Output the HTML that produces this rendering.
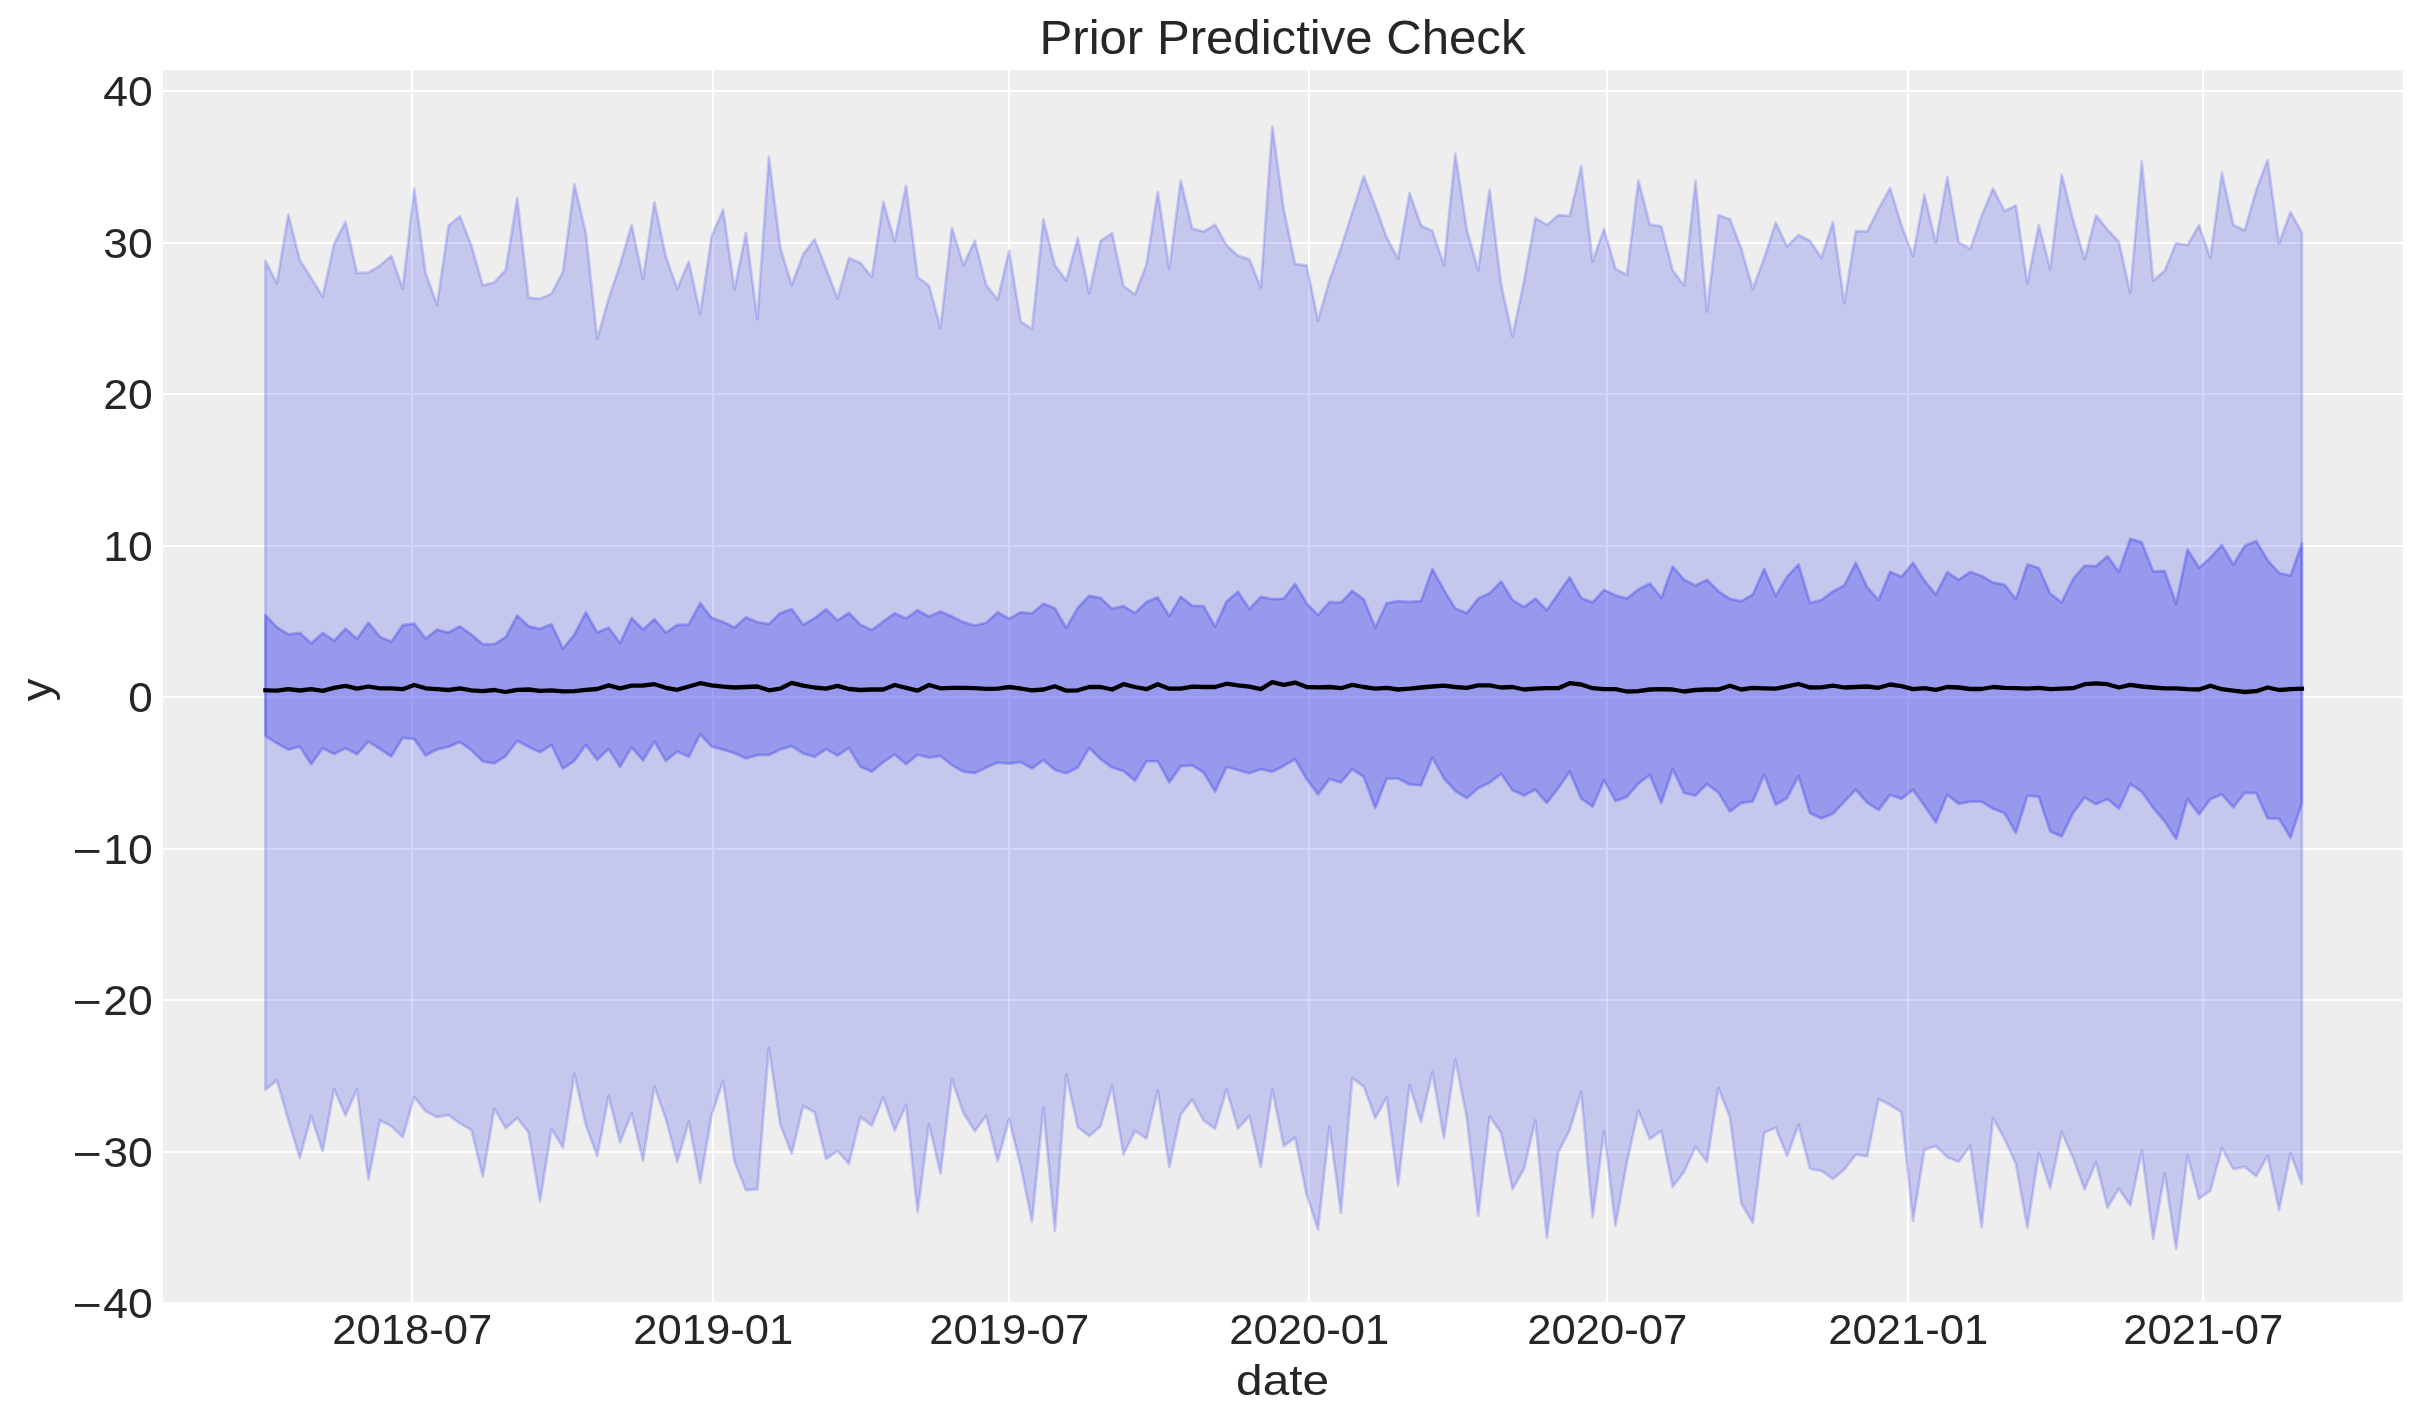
<!DOCTYPE html>
<html><head><meta charset="utf-8"><title>Prior Predictive Check</title>
<style>html,body{margin:0;padding:0;background:#fff;}body{width:2423px;height:1423px;overflow:hidden;}svg{display:block;will-change:transform;}text{font-family:"Liberation Sans",sans-serif;fill:#262626;}</style>
</head><body>
<svg width="2423" height="1423" viewBox="0 0 2423 1423">
<rect x="0" y="0" width="2423" height="1423" fill="#ffffff"/>
<defs><clipPath id="pc"><rect x="163" y="70" width="2240" height="1232"/></clipPath></defs>
<rect x="163" y="70" width="2240" height="1232" fill="#eeeeee"/>
<g clip-path="url(#pc)">
<g stroke="#ffffff" stroke-width="2" fill="none">
<line x1="412" y1="70" x2="412" y2="1302"/>
<line x1="713" y1="70" x2="713" y2="1302"/>
<line x1="1009" y1="70" x2="1009" y2="1302"/>
<line x1="1309" y1="70" x2="1309" y2="1302"/>
<line x1="1607" y1="70" x2="1607" y2="1302"/>
<line x1="1908" y1="70" x2="1908" y2="1302"/>
<line x1="2203" y1="70" x2="2203" y2="1302"/>
<line x1="163" y1="91" x2="2403" y2="91"/>
<line x1="163" y1="243" x2="2403" y2="243"/>
<line x1="163" y1="394" x2="2403" y2="394"/>
<line x1="163" y1="546" x2="2403" y2="546"/>
<line x1="163" y1="697" x2="2403" y2="697"/>
<line x1="163" y1="849" x2="2403" y2="849"/>
<line x1="163" y1="1000" x2="2403" y2="1000"/>
<line x1="163" y1="1152" x2="2403" y2="1152"/>
<line x1="163" y1="1303" x2="2403" y2="1303"/>
</g>
<polygon points="265.4,261 276.9,283.3 288.3,214.6 299.8,260 311.2,278.1 322.7,296.5 334.1,244 345.5,221.7 357,273 368.4,272.4 379.9,265.8 391.3,255.8 402.7,288.5 414.2,189 425.6,273 437.1,305.1 448.5,225.8 459.9,216.2 471.4,245.6 482.8,285.6 494.3,282.3 505.7,270 517.2,198 528.6,297.6 540,298.8 551.5,293.8 562.9,271.7 574.4,184.5 585.8,232.7 597.2,338.9 608.7,298.5 620.1,264.6 631.6,225 643,279.1 654.4,202.3 665.9,256.8 677.3,288.9 688.8,261.8 700.2,314.1 711.6,236.5 723.1,209.8 734.5,289.4 746,232.9 757.4,319.1 768.9,156.8 780.3,247.6 791.7,285.2 803.2,254.2 814.6,239.3 826.1,268.7 837.5,298.5 848.9,258 860.4,262.9 871.8,277 883.3,201.8 894.7,241.5 906.1,185.8 917.6,277 929,285.7 940.5,328.2 951.9,227.8 963.4,265.1 974.8,240.7 986.2,284.9 997.7,299.6 1009.1,250.7 1020.6,321.3 1032,328.9 1043.4,219.4 1054.9,265.3 1066.3,280.6 1077.8,238 1089.2,293.4 1100.6,240.8 1112.1,233.1 1123.5,285.9 1135,294.5 1146.4,264.5 1157.8,191.8 1169.3,268.9 1180.7,180.6 1192.2,228.5 1203.6,231.6 1215.1,224.7 1226.5,245.1 1237.9,255.7 1249.4,259.3 1260.8,287.6 1272.3,126.6 1283.7,209.1 1295.1,264 1306.6,265.3 1318,320.6 1329.5,280.2 1340.9,247.9 1352.3,212.4 1363.8,176.4 1375.2,205.8 1386.7,237.5 1398.1,258.9 1409.6,193.1 1421,225.5 1432.4,231.1 1443.9,265.1 1455.3,153.9 1466.8,229.6 1478.2,270.4 1489.6,189.8 1501.1,284.4 1512.5,336.4 1524,281.1 1535.4,218 1546.8,225 1558.3,215.1 1569.7,215.9 1581.2,166.3 1592.6,261.6 1604,229.1 1615.5,268.7 1626.9,275 1638.4,180.4 1649.8,224.5 1661.3,226.3 1672.7,270.4 1684.1,285.7 1695.6,180.9 1707,311.7 1718.5,215.1 1729.9,219.2 1741.3,248.6 1752.8,289 1764.2,258 1775.7,222.8 1787.1,246.4 1798.5,234.9 1810,240.7 1821.4,258 1832.9,222 1844.3,303.4 1855.8,231.1 1867.2,231.4 1878.6,208.9 1890.1,188.1 1901.5,225.3 1913,256.3 1924.4,194.7 1935.8,242.8 1947.3,177.1 1958.7,242.3 1970.2,248.9 1981.6,215.9 1993,188.6 2004.5,210.9 2015.9,205.5 2027.4,283.6 2038.8,225 2050.2,269.2 2061.7,174.6 2073.1,220 2084.6,259.1 2096,215.5 2107.5,229.6 2118.9,241.8 2130.3,293.2 2141.8,161.4 2153.2,280.6 2164.7,270.7 2176.1,243.1 2187.5,245.1 2199,225.3 2210.4,258 2221.9,172.9 2233.3,225 2244.7,230.4 2256.2,190.3 2267.6,160.1 2279.1,243.6 2290.5,212.1 2301.9,232.7 2301.9,1184.1 2290.5,1153.1 2279.1,1210.1 2267.6,1155.6 2256.2,1176.2 2244.7,1166.8 2233.3,1169.1 2221.9,1148.1 2210.4,1190.6 2199,1198.8 2187.5,1155.2 2176.1,1248.9 2164.7,1173.4 2153.2,1239 2141.8,1150.9 2130.3,1205.4 2118.9,1188.6 2107.5,1207.6 2096,1162.2 2084.6,1189.4 2073.1,1158 2061.7,1131.9 2050.2,1188.1 2038.8,1152.8 2027.4,1227.9 2015.9,1163.8 2004.5,1139 1993,1117.9 1981.6,1227.1 1970.2,1146 1958.7,1161.8 1947.3,1157.2 1935.8,1146 1924.4,1149.8 1913,1220.8 1901.5,1112.3 1890.1,1104.9 1878.6,1098.9 1867.2,1156.4 1855.8,1154.7 1844.3,1169.6 1832.9,1179 1821.4,1170.8 1810,1168.8 1798.5,1124.7 1787.1,1156.1 1775.7,1127.8 1764.2,1132.8 1752.8,1222.9 1741.3,1203.5 1729.9,1117.6 1718.5,1087.8 1707,1161.8 1695.6,1147 1684.1,1171.7 1672.7,1186.9 1661.3,1130.8 1649.8,1139 1638.4,1110.6 1626.9,1162.2 1615.5,1225.8 1604,1131.3 1592.6,1217.2 1581.2,1092 1569.7,1130 1558.3,1152.3 1546.8,1238.1 1535.4,1120.4 1524,1168.8 1512.5,1189.4 1501.1,1132.9 1489.6,1116.4 1478.2,1215.8 1466.8,1117.6 1455.3,1059.8 1443.9,1137.9 1432.4,1072.2 1421,1122 1409.6,1084.9 1398.1,1185.3 1386.7,1097.4 1375.2,1118.1 1363.8,1086.5 1352.3,1078.3 1340.9,1212.9 1329.5,1126.7 1318,1229.5 1306.6,1194.4 1295.1,1137.7 1283.7,1146 1272.3,1089.5 1260.8,1167.1 1249.4,1115.9 1237.9,1128.6 1226.5,1089.2 1215.1,1128.8 1203.6,1120.5 1192.2,1099.7 1180.7,1114.6 1169.3,1167.1 1157.8,1090.7 1146.4,1138.6 1135,1130.8 1123.5,1154.4 1112.1,1085.9 1100.6,1126.2 1089.2,1136.1 1077.8,1127.2 1066.3,1074.6 1054.9,1230.7 1043.4,1108 1032,1221.6 1020.6,1165.5 1009.1,1119.2 997.7,1161.3 986.2,1115.9 974.8,1131.1 963.4,1113.1 951.9,1079.3 940.5,1173.4 929,1124.2 917.6,1212 906.1,1104.9 894.7,1130.5 883.3,1097.4 871.8,1125.5 860.4,1117.1 848.9,1163.8 837.5,1150.9 826.1,1158.9 814.6,1112.3 803.2,1106 791.7,1153.6 780.3,1124.7 768.9,1047.9 757.4,1189.4 746,1190.2 734.5,1161.8 723.1,1080.7 711.6,1115.1 700.2,1182.5 688.8,1121.4 677.3,1161.8 665.9,1119.2 654.4,1086.2 643,1160.8 631.6,1113 620.1,1142.3 608.7,1095.8 597.2,1156.1 585.8,1125 574.4,1073.8 562.9,1147.6 551.5,1129.1 540,1201.3 528.6,1132.4 517.2,1117.9 505.7,1128.3 494.3,1108.8 482.8,1176.7 471.4,1130 459.9,1123.4 448.5,1115.1 437.1,1117.2 425.6,1111.3 414.2,1096.9 402.7,1137.1 391.3,1126.2 379.9,1120.5 368.4,1179.5 357,1089.2 345.5,1115.4 334.1,1089 322.7,1151.4 311.2,1115.9 299.8,1158 288.3,1120.1 276.9,1080.4 265.4,1089.8" fill="#2a2eec" fill-opacity="0.2" stroke="#2a2eec" stroke-opacity="0.2" stroke-width="2.8" stroke-linejoin="round"/>
<polygon points="265.4,615.1 276.9,627.2 288.3,634.3 299.8,632.9 311.2,643.4 322.7,632.9 334.1,640.7 345.5,628.8 357,638.7 368.4,622.7 379.9,636.7 391.3,641.7 402.7,625.2 414.2,623.5 425.6,638.7 437.1,629.6 448.5,632.6 459.9,626.3 471.4,634.6 482.8,644.2 494.3,644.2 505.7,637.1 517.2,615.6 528.6,626.3 540,628.8 551.5,624.2 562.9,648.6 574.4,634.6 585.8,612.3 597.2,632.6 608.7,627.5 620.1,643.2 631.6,618.1 643,629.6 654.4,619.2 665.9,632.6 677.3,625 688.8,624.4 700.2,603.2 711.6,617.8 723.1,621.9 734.5,627.5 746,617.3 757.4,622.2 768.9,623.9 780.3,613.1 791.7,609 803.2,624.7 814.6,618.1 826.1,609.3 837.5,620.6 848.9,612.8 860.4,624.7 871.8,630.1 883.3,621.4 894.7,613.3 906.1,618.4 917.6,610.2 929,616.4 940.5,611.5 951.9,616.4 963.4,622.2 974.8,625.5 986.2,622.7 997.7,612.3 1009.1,618.7 1020.6,612.3 1032,613.3 1043.4,603.7 1054.9,608.2 1066.3,628 1077.8,607.7 1089.2,595.8 1100.6,597.9 1112.1,608.7 1123.5,606 1135,613.1 1146.4,601.9 1157.8,597.4 1169.3,615.9 1180.7,596.6 1192.2,605.7 1203.6,606.2 1215.1,626.7 1226.5,601.6 1237.9,591.7 1249.4,609 1260.8,596.9 1272.3,599.1 1283.7,598.6 1295.1,583.9 1306.6,603.2 1318,615.1 1329.5,601.9 1340.9,602.7 1352.3,590.8 1363.8,599.4 1375.2,627.5 1386.7,603.2 1398.1,601.2 1409.6,601.9 1421,601.1 1432.4,568.9 1443.9,590 1455.3,608.5 1466.8,613.1 1478.2,598.6 1489.6,593.3 1501.1,581.4 1512.5,599.9 1524,607 1535.4,598.6 1546.8,610.3 1558.3,593.6 1569.7,577.3 1581.2,597.9 1592.6,602.4 1604,590 1615.5,595.3 1626.9,598.3 1638.4,589.5 1649.8,583.4 1661.3,597.9 1672.7,566.6 1684.1,579.8 1695.6,585.5 1707,579.8 1718.5,591.3 1729.9,598.8 1741.3,601.1 1752.8,594.6 1764.2,569 1775.7,595.8 1787.1,576.8 1798.5,564.4 1810,603.2 1821.4,599.9 1832.9,591.3 1844.3,585.4 1855.8,562.8 1867.2,587.2 1878.6,599.9 1890.1,571.8 1901.5,576.8 1913,562.8 1924.4,580.4 1935.8,594.6 1947.3,572.2 1958.7,579.8 1970.2,571.8 1981.6,576 1993,582.6 2004.5,584.7 2015.9,599.1 2027.4,564.4 2038.8,568 2050.2,593.6 2061.7,602.4 2073.1,578.9 2084.6,565.7 2096,566.1 2107.5,556.2 2118.9,571.8 2130.3,538.8 2141.8,542.4 2153.2,571.5 2164.7,571 2176.1,603.7 2187.5,549.5 2199,567.7 2210.4,557.8 2221.9,544.9 2233.3,564.7 2244.7,545.9 2256.2,541 2267.6,560.3 2279.1,573 2290.5,575.6 2301.9,543.8 2301.9,803 2290.5,837.7 2279.1,818.7 2267.6,818.4 2256.2,793.1 2244.7,792.8 2233.3,807.5 2221.9,794.3 2210.4,799.2 2199,814.3 2187.5,798.9 2176.1,839 2164.7,821.5 2153.2,808 2141.8,791.8 2130.3,784 2118.9,808.8 2107.5,798.9 2096,804.2 2084.6,797.6 2073.1,812.9 2061.7,836.4 2050.2,831.4 2038.8,796.9 2027.4,795.6 2015.9,832.8 2004.5,813.3 1993,808.8 1981.6,801.7 1970.2,801.7 1958.7,803.9 1947.3,794.8 1935.8,822.5 1924.4,805.8 1913,789.8 1901.5,798.9 1890.1,794.8 1878.6,810.1 1867.2,802.7 1855.8,789.8 1844.3,801.7 1832.9,813.8 1821.4,818.4 1810,813.3 1798.5,775.8 1787.1,798.1 1775.7,804.7 1764.2,774.6 1752.8,801.4 1741.3,803 1729.9,811.6 1718.5,792.8 1707,784 1695.6,795.6 1684.1,793.1 1672.7,769.2 1661.3,803 1649.8,775 1638.4,783.6 1626.9,796.9 1615.5,801.1 1604,780.2 1592.6,806.7 1581.2,798.6 1569.7,771.7 1558.3,788.2 1546.8,803 1535.4,789.8 1524,795.6 1512.5,790.3 1501.1,773.8 1489.6,782.7 1478.2,788.2 1466.8,798.1 1455.3,791 1443.9,778.3 1432.4,757.6 1421,785.4 1409.6,784.4 1398.1,778.6 1386.7,778.6 1375.2,808 1363.8,776.9 1352.3,769.2 1340.9,782.4 1329.5,779.1 1318,794.3 1306.6,779.1 1295.1,759.3 1283.7,765.9 1272.3,771.7 1260.8,769.2 1249.4,773.3 1237.9,770 1226.5,767 1215.1,791.5 1203.6,772.5 1192.2,765.4 1180.7,766.2 1169.3,782.4 1157.8,761.3 1146.4,761.3 1135,780.7 1123.5,771.2 1112.1,767.5 1100.6,759.3 1089.2,748 1077.8,767.5 1066.3,773.3 1054.9,770 1043.4,760.1 1032,768.4 1020.6,762.1 1009.1,763.7 997.7,762.6 986.2,767.5 974.8,773 963.4,771.7 951.9,765.1 940.5,756 929,757.6 917.6,754.8 906.1,764.2 894.7,754.6 883.3,762.1 871.8,771.7 860.4,766.7 848.9,748 837.5,755.6 826.1,749 814.6,756.8 803.2,753.5 791.7,746.1 780.3,749.4 768.9,755.1 757.4,755.1 746,758.4 734.5,753.2 723.1,749.7 711.6,746.6 700.2,734.2 688.8,756.8 677.3,751.5 665.9,760.9 654.4,741.6 643,760.4 631.6,747.4 620.1,766.7 608.7,749 597.2,759.8 585.8,744.9 574.4,760.9 562.9,768.7 551.5,744.9 540,752.3 528.6,746.9 517.2,740.8 505.7,756 494.3,763.4 482.8,761.4 471.4,750.2 459.9,741.9 448.5,746.9 437.1,749.4 425.6,755.6 414.2,739 402.7,737.8 391.3,756.5 379.9,748.9 368.4,741.6 357,754.3 345.5,748.2 334.1,754 322.7,748.2 311.2,764.2 299.8,746.6 288.3,749.7 276.9,743.3 265.4,735.8" fill="#2a2eec" fill-opacity="0.3" stroke="#2a2eec" stroke-opacity="0.3" stroke-width="2.8" stroke-linejoin="round"/>
<polyline points="265.4,690.3 276.9,690.7 288.3,689.2 299.8,690.5 311.2,689.2 322.7,690.8 334.1,687.8 345.5,685.9 357,688.7 368.4,686.5 379.9,688.3 391.3,688.3 402.7,689.2 414.2,685 425.6,688.3 437.1,689.2 448.5,690 459.9,688.3 471.4,690.3 482.8,691.2 494.3,690 505.7,692 517.2,689.8 528.6,689.5 540,690.8 551.5,690.3 562.9,691.3 574.4,691.2 585.8,689.8 597.2,689 608.7,685.4 620.1,688.3 631.6,685.7 643,685.5 654.4,684.2 665.9,687.8 677.3,689.8 688.8,686.5 700.2,683.2 711.6,685.4 723.1,686.7 734.5,687.5 746,687 757.4,686.5 768.9,690.3 780.3,688.7 791.7,682.9 803.2,685.7 814.6,687.5 826.1,688.7 837.5,685.9 848.9,689 860.4,690 871.8,689.5 883.3,689.5 894.7,685 906.1,687.8 917.6,690.7 929,685 940.5,688.3 951.9,687.8 963.4,687.8 974.8,688.2 986.2,688.8 997.7,688.7 1009.1,687 1020.6,688.5 1032,690.3 1043.4,689.5 1054.9,686.2 1066.3,690.7 1077.8,690.3 1089.2,687 1100.6,687 1112.1,689.5 1123.5,684.2 1135,687 1146.4,689.2 1157.8,684.2 1169.3,688.7 1180.7,688.7 1192.2,686.7 1203.6,687 1215.1,687 1226.5,683.7 1237.9,685.4 1249.4,686.7 1260.8,689.2 1272.3,682.1 1283.7,684.9 1295.1,682.6 1306.6,687 1318,687.4 1329.5,687 1340.9,688.2 1352.3,684.9 1363.8,687 1375.2,688.7 1386.7,687.8 1398.1,689.5 1409.6,688.7 1421,687.5 1432.4,686.5 1443.9,685.7 1455.3,687 1466.8,687.8 1478.2,685.4 1489.6,685.4 1501.1,687.5 1512.5,687 1524,689.5 1535.4,688.7 1546.8,688.2 1558.3,688.2 1569.7,683.2 1581.2,684.5 1592.6,688.2 1604,689.2 1615.5,689.2 1626.9,691.5 1638.4,691.2 1649.8,689.5 1661.3,689.2 1672.7,689.5 1684.1,691.5 1695.6,690 1707,689.5 1718.5,689.5 1729.9,685.7 1741.3,689.5 1752.8,687.8 1764.2,688.3 1775.7,688.7 1787.1,686.4 1798.5,684 1810,687.5 1821.4,687.4 1832.9,685.7 1844.3,687.5 1855.8,687 1867.2,686.5 1878.6,687.8 1890.1,684.5 1901.5,686.2 1913,689.2 1924.4,688.2 1935.8,689.8 1947.3,687 1958.7,687.5 1970.2,689 1981.6,689 1993,687 2004.5,687.8 2015.9,688.2 2027.4,688.7 2038.8,687.8 2050.2,689.2 2061.7,688.7 2073.1,688.2 2084.6,684.2 2096,683.4 2107.5,684.2 2118.9,687.5 2130.3,684.9 2141.8,686.5 2153.2,687.5 2164.7,688.3 2176.1,688.3 2187.5,689.2 2199,689.5 2210.4,685.7 2221.9,689.2 2233.3,690.7 2244.7,692 2256.2,691.2 2267.6,687.5 2279.1,690 2290.5,689.2 2301.9,688.7" fill="none" stroke="#000000" stroke-width="4.3" stroke-linejoin="round" stroke-linecap="square"/>
</g>
<text x="152.7" y="105.8" font-size="42" text-anchor="end" textLength="49.5" lengthAdjust="spacingAndGlyphs">40</text>
<text x="152.7" y="257.9" font-size="42" text-anchor="end" textLength="49.5" lengthAdjust="spacingAndGlyphs">30</text>
<text x="152.7" y="408.9" font-size="42" text-anchor="end" textLength="49.5" lengthAdjust="spacingAndGlyphs">20</text>
<text x="152.7" y="560.9" font-size="42" text-anchor="end" textLength="49.5" lengthAdjust="spacingAndGlyphs">10</text>
<text x="152.7" y="711.9" font-size="42" text-anchor="end" textLength="24.5" lengthAdjust="spacingAndGlyphs">0</text>
<text x="152.7" y="863.9" font-size="42" text-anchor="end" textLength="49.5" lengthAdjust="spacingAndGlyphs">10</text>
<rect x="75" y="850" width="24.4" height="2.9" fill="#262626"/>
<text x="152.7" y="1014.9" font-size="42" text-anchor="end" textLength="49.5" lengthAdjust="spacingAndGlyphs">20</text>
<rect x="75" y="1001" width="24.4" height="2.9" fill="#262626"/>
<text x="152.7" y="1166.8" font-size="42" text-anchor="end" textLength="49.5" lengthAdjust="spacingAndGlyphs">30</text>
<rect x="75" y="1153" width="24.4" height="2.9" fill="#262626"/>
<text x="152.7" y="1317.8" font-size="42" text-anchor="end" textLength="49.5" lengthAdjust="spacingAndGlyphs">40</text>
<rect x="75" y="1304" width="24.4" height="2.9" fill="#262626"/>
<text x="412.3" y="1343.8" font-size="42" text-anchor="middle" textLength="160" lengthAdjust="spacingAndGlyphs">2018-07</text>
<text x="713.3" y="1343.8" font-size="42" text-anchor="middle" textLength="160" lengthAdjust="spacingAndGlyphs">2019-01</text>
<text x="1009.3" y="1343.8" font-size="42" text-anchor="middle" textLength="160" lengthAdjust="spacingAndGlyphs">2019-07</text>
<text x="1309.3" y="1343.8" font-size="42" text-anchor="middle" textLength="160" lengthAdjust="spacingAndGlyphs">2020-01</text>
<text x="1607.3" y="1343.8" font-size="42" text-anchor="middle" textLength="160" lengthAdjust="spacingAndGlyphs">2020-07</text>
<text x="1908.3" y="1343.8" font-size="42" text-anchor="middle" textLength="160" lengthAdjust="spacingAndGlyphs">2021-01</text>
<text x="2203.3" y="1343.8" font-size="42" text-anchor="middle" textLength="160" lengthAdjust="spacingAndGlyphs">2021-07</text>
<text x="1282.6" y="1394.9" font-size="42" text-anchor="middle" textLength="93" lengthAdjust="spacingAndGlyphs">date</text>
<text transform="translate(51,690) rotate(-90) scale(1.08,1.0)" font-size="42" text-anchor="middle">y</text>
<text x="1282.5" y="54" font-size="48" text-anchor="middle" textLength="486" lengthAdjust="spacingAndGlyphs">Prior Predictive Check</text>
</svg></body></html>
